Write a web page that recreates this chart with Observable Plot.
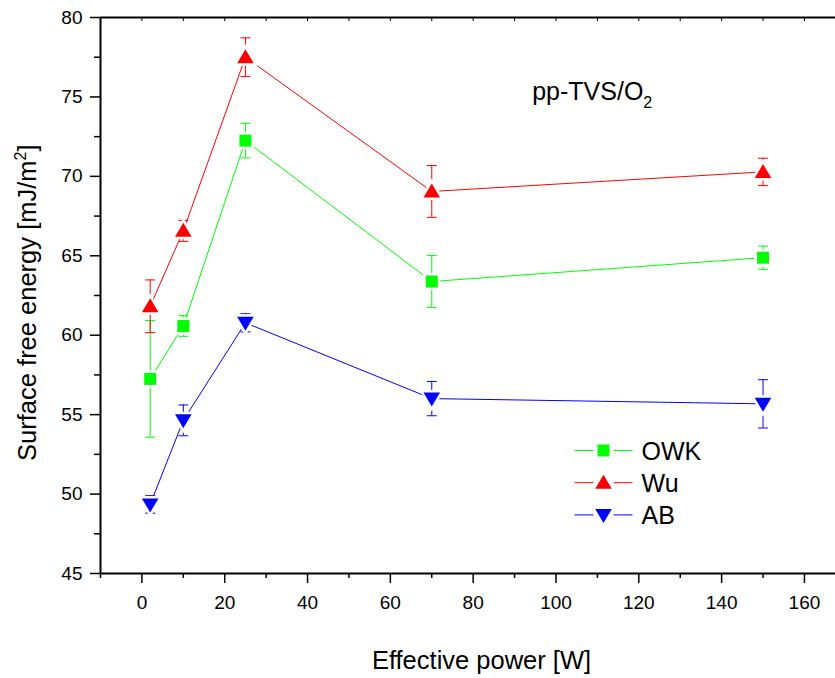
<!DOCTYPE html>
<html><head><meta charset="utf-8">
<script src="https://cdn.jsdelivr.net/npm/d3@7"></script>
<script src="https://cdn.jsdelivr.net/npm/@observablehq/plot@0.6"></script>
<style>body{margin:0;background:#fff}</style>
</head><body><div id="chart"></div>
<script>
// ---- data ----
const power = [2, 10, 25, 70, 150];
const owk = [57.25, 60.58, 72.25, 63.38, 64.88];
const owkErr = [3.67, 0.65, 1.09, 1.64, 0.73];
const wu = [61.82, 66.57, 77.5, 69.05, 70.28];
const wuErr = [1.66, 0.66, 1.22, 1.63, 0.86];
const ab = [49.35, 54.64, 60.78, 56.01, 55.68];
const abErr = [0.55, 0.97, 0.57, 1.08, 1.52];
const seriesNames = ["OWK", "Wu", "AB"];
const seriesColors = ["#00ff00", "#ff0000", "#0000ff"];

// ticks
const xDomain = [-10, 167.5];
const yDomain = [45, 80];
const xTicks = [0, 20, 40, 60, 80, 100, 120, 140, 160];
const xMinor = [-10, 10, 30, 50, 70, 90, 110, 130, 150];
const xTop = [-10, 0, 10, 20, 30, 40, 50, 60, 70, 80, 90, 100, 110, 120, 130, 140, 150, 160];
const yTicks = [45, 50, 55, 60, 65, 70, 75, 80];
const yMinor = [47.5, 52.5, 57.5, 62.5, 67.5, 72.5, 77.5];

const xTitle = "Effective power [W]";
const yTitleMain = "Surface free energy [mJ/m";
const yTitleSup = "2";
const yTitleEnd = "]";
const noteMain = "pp-TVS/O";
const noteSub = "2";

// ---- symbols ----
const sq = {draw(c) { c.rect(-6, -6, 12, 12); }};
const triUp = {draw(c) { c.moveTo(0, -8); c.lineTo(8.3, 6); c.lineTo(-8.3, 6); c.closePath(); }};
const triDown = {draw(c) { c.moveTo(0, 8); c.lineTo(8.3, -6); c.lineTo(-8.3, -6); c.closePath(); }};
const cap = {draw(c) { c.moveTo(-5, 0); c.lineTo(5, 0); }};
const legLine = {draw(c) { c.moveTo(-29, 0); c.lineTo(-10, 0); c.moveTo(10, 0); c.lineTo(29, 0); }};
const symbols = [sq, triUp, triDown];

const values = [owk, wu, ab];
const errs = [owkErr, wuErr, abErr];

const marks = [];
// error bars, lines, markers
values.forEach((vals, s) => {
  const rows = power.map((p, i) => ({x: p, y: vals[i], e: errs[s][i]}));
  const col = seriesColors[s];
  marks.push(Plot.line(rows, {x: "x", y: "y", stroke: col, strokeWidth: 1}));
  marks.push(Plot.ruleX(rows, {x: "x", y1: d => d.y - d.e, y2: d => d.y + d.e, stroke: col, strokeWidth: 1}));
  marks.push(Plot.dot(rows, {x: "x", y: d => d.y + d.e, symbol: cap, stroke: col, fill: "none", strokeWidth: 1}));
  marks.push(Plot.dot(rows, {x: "x", y: d => d.y - d.e, symbol: cap, stroke: col, fill: "none", strokeWidth: 1}));
});
values.forEach((vals, s) => {
  const rows = power.map((p, i) => ({x: p, y: vals[i]}));
  marks.push(Plot.dot(rows, {x: "x", y: "y", symbol: symbols[s], fill: seriesColors[s], stroke: "white", strokeWidth: 5, paintOrder: "stroke"}));
});

// legend
seriesNames.forEach((name, s) => {
  const dy = 433 + s * 32.2;
  marks.push(Plot.dot([name], {frameAnchor: "top-left", dx: 503, dy, symbol: legLine, stroke: seriesColors[s], fill: "none", strokeWidth: 1}));
  marks.push(Plot.dot([name], {frameAnchor: "top-left", dx: 503, dy, symbol: symbols[s], fill: seriesColors[s]}));
  marks.push(Plot.text([name], {frameAnchor: "top-left", dx: 541, dy: dy + 1, text: d => d, textAnchor: "start", lineAnchor: "middle", fontSize: 25}));
});

// annotation & titles
marks.push(Plot.text([noteMain], {frameAnchor: "top-left", dx: 431.7, dy: 82, text: d => d, textAnchor: "start", lineAnchor: "bottom", fontSize: 25}));
marks.push(Plot.text([xTitle], {frameAnchor: "bottom", dx: 13.5, dy: 95, text: d => d, textAnchor: "middle", lineAnchor: "bottom", fontSize: 25.5}));
marks.push(Plot.text([yTitleMain], {frameAnchor: "left", dx: -65, dy: 7.2, rotate: -90, text: d => d, textAnchor: "middle", lineAnchor: "bottom", fontSize: 25.5}));

// axes
marks.push(Plot.axisY(yTicks, {tickSize: 10, tickPadding: 8, strokeWidth: 1.5, fontSize: 19, label: null}));
marks.push(Plot.axisY(yMinor, {tickSize: 6, tickFormat: () => "", strokeWidth: 1.5, label: null}));
marks.push(Plot.axisX(xTicks, {tickSize: 10, tickPadding: 12, strokeWidth: 1.5, fontSize: 19, label: null}));
marks.push(Plot.axisX(xMinor, {tickSize: 5, tickFormat: () => "", strokeWidth: 1.5, label: null}));
marks.push(Plot.axisX(xTop, {anchor: "top", tickSize: -3, tickFormat: () => "", strokeWidth: 1, label: null}));
// frame lines
marks.push(Plot.ruleX([xDomain[0]], {stroke: "black", strokeWidth: 2}));
marks.push(Plot.ruleY([yDomain[0]], {stroke: "black", strokeWidth: 2}));
marks.push(Plot.ruleY([yDomain[1]], {stroke: "black", strokeWidth: 2}));

const svg = Plot.plot({
  width: 835,
  height: 678,
  marginLeft: 100,
  marginRight: 0,
  marginTop: 17,
  marginBottom: 105,
  x: {domain: xDomain, label: null},
  y: {domain: yDomain, label: null},
  style: {fontFamily: "'Liberation Sans', Arial, sans-serif", fontSize: "19px", color: "black", background: "white", overflow: "visible"},
  marks
});

// subscript / superscript post-processing
d3.select(svg).selectAll("text").each(function() {
  const t = d3.select(this);
  const s = t.text();
  if (s === noteMain) {
    t.text("");
    t.append("tspan").text(noteMain);
    t.append("tspan").attr("font-size", 16).attr("dy", 8).text(noteSub);
  } else if (s === yTitleMain) {
    t.text("");
    t.append("tspan").text(yTitleMain);
    t.append("tspan").attr("font-size", 16).attr("dy", -10).text(yTitleSup);
    t.append("tspan").attr("dy", 10).text(yTitleEnd);
  }
});

document.getElementById("chart").appendChild(svg);
</script>
</body></html>
